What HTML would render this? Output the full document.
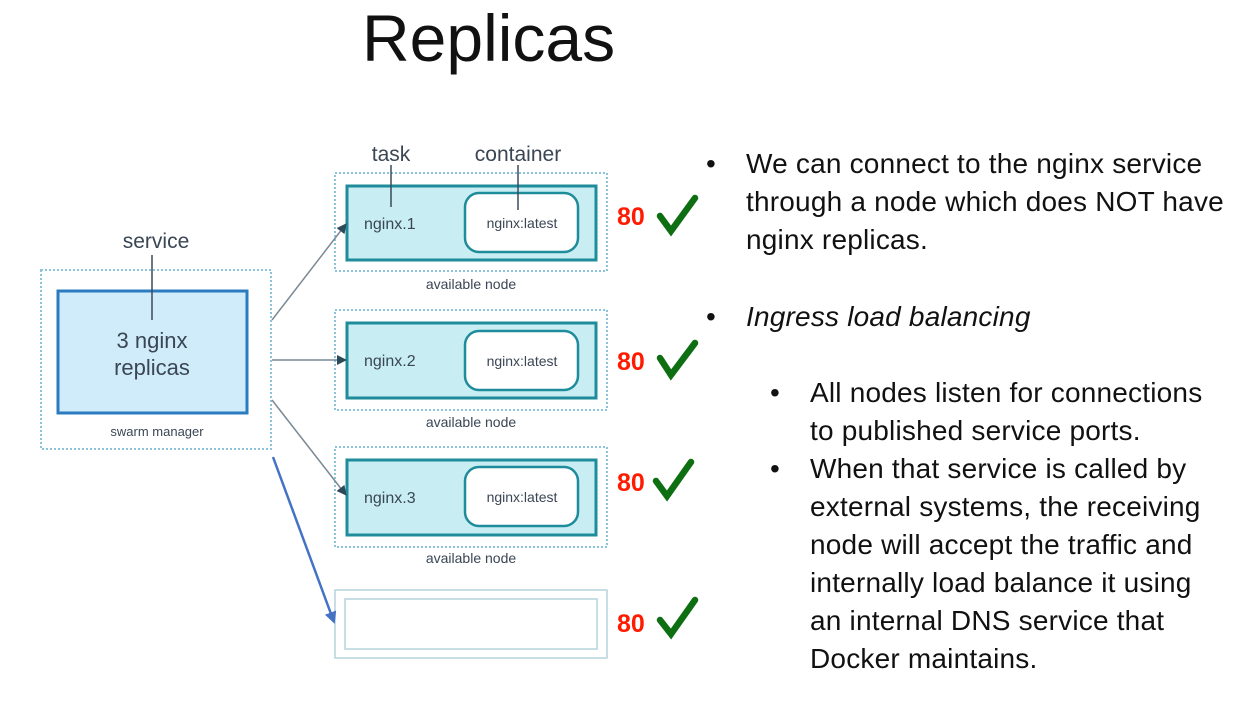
<!DOCTYPE html>
<html><head><style>
body{margin:0;width:1254px;height:703px;background:#fff;position:relative;overflow:hidden;font-family:"Liberation Sans",sans-serif}
.a{position:absolute;white-space:nowrap}
.t{font-size:28px;color:#111;line-height:38px;letter-spacing:0.2px}
</style></head><body>
<div class="a" style="left:362px;top:0px;font-size:66px;color:#111">Replicas</div>
<svg class="a" style="left:0;top:0" width="700" height="703">
<defs><marker id="m" markerWidth="10" markerHeight="10" refX="9" refY="5" orient="auto" markerUnits="userSpaceOnUse"><path d="M0,0 L10,5 L0,10z" fill="#2d4a5a"/></marker>
<marker id="mb" markerWidth="12" markerHeight="12" refX="10" refY="6" orient="auto" markerUnits="userSpaceOnUse"><path d="M0,0 L12,6 L0,12z" fill="#4472c4"/></marker></defs>
<rect x="41" y="270" width="230" height="179" fill="none" stroke="#8cc4dc" stroke-width="2" stroke-dasharray="2,2"/>
<rect x="58" y="291" width="189" height="122" fill="#d0ecfa" stroke="#2a7bc0" stroke-width="3"/>
<line x1="152" y1="255" x2="152" y2="320" stroke="#3a4a5a" stroke-width="1.5"/>
<g fill="none">
<rect x="335" y="173" width="272" height="98" stroke="#8cc4dc" stroke-width="2" stroke-dasharray="2,2"/>
<rect x="335" y="310" width="272" height="100" stroke="#8cc4dc" stroke-width="2" stroke-dasharray="2,2"/>
<rect x="335" y="447" width="272" height="100" stroke="#8cc4dc" stroke-width="2" stroke-dasharray="2,2"/>
</g>
<g fill="#c8eef4" stroke="#1e8c9a" stroke-width="3">
<rect x="347" y="186" width="249" height="74"/>
<rect x="347" y="323" width="249" height="75"/>
<rect x="347" y="460" width="249" height="75"/>
</g>
<g fill="#fff" stroke="#1e8c9a" stroke-width="2.5">
<rect x="465" y="193" width="113" height="59" rx="14"/>
<rect x="465" y="331" width="113" height="59" rx="14"/>
<rect x="465" y="467" width="113" height="59" rx="14"/>
</g>
<line x1="391" y1="165" x2="391" y2="207" stroke="#3a4a5a" stroke-width="1.5"/>
<line x1="518" y1="165" x2="518" y2="210" stroke="#3a4a5a" stroke-width="1.5"/>
<rect x="335" y="590" width="272" height="68" fill="none" stroke="#b6d4dc" stroke-width="1.5"/>
<rect x="345" y="599" width="252" height="50" fill="none" stroke="#b6d4dc" stroke-width="1.5"/>
<g stroke="#7a8a96" stroke-width="1.5">
<line x1="272" y1="320" x2="346" y2="224" marker-end="url(#m)"/>
<line x1="272" y1="360" x2="346" y2="360" marker-end="url(#m)"/>
<line x1="272" y1="400" x2="346" y2="495" marker-end="url(#m)"/>
</g>
<line x1="273" y1="457" x2="334" y2="622" stroke="#4472c4" stroke-width="2.5" marker-end="url(#mb)"/>
<g font-family="Liberation Sans,sans-serif" fill="#3a4654">
<text x="156" y="248" font-size="21" text-anchor="middle">service</text>
<text x="391" y="161" font-size="21" text-anchor="middle">task</text>
<text x="518" y="161" font-size="21" text-anchor="middle">container</text>
<text x="152" y="348" font-size="22" text-anchor="middle">3 nginx</text>
<text x="152" y="375" font-size="22" text-anchor="middle">replicas</text>
<text x="157" y="436" font-size="13" text-anchor="middle">swarm manager</text>
<text x="364" y="229" font-size="16">nginx.1</text>
<text x="364" y="366" font-size="16">nginx.2</text>
<text x="364" y="503" font-size="16">nginx.3</text>
<text x="522" y="228" font-size="14" text-anchor="middle">nginx:latest</text>
<text x="522" y="366" font-size="14" text-anchor="middle">nginx:latest</text>
<text x="522" y="502" font-size="14" text-anchor="middle">nginx:latest</text>
<text x="471" y="289" font-size="14" text-anchor="middle">available node</text>
<text x="471" y="427" font-size="14" text-anchor="middle">available node</text>
<text x="471" y="563" font-size="14" text-anchor="middle">available node</text>
</g>
<g font-family="Liberation Sans,sans-serif" font-weight="bold" font-size="25" fill="#ff1a00">
<text x="617" y="225">80</text><text x="617" y="370">80</text><text x="617" y="491">80</text><text x="617" y="632">80</text>
</g>
<g fill="none" stroke="#0e6e12" stroke-width="6.5" stroke-linecap="round">
<path d="M660,216 L671,231 L695,198"/><path d="M660,358 L671,375 L695,343"/><path d="M656,481 L667,496 L691,462"/><path d="M660,620 L671,634 L695,600"/>
</g>
</svg>
<div class="a t" style="left:706px;top:145px">•</div>
<div class="a t" style="left:746px;top:145px">We can connect to the nginx service<br>through a node which does NOT have<br>nginx replicas.</div>
<div class="a t" style="left:706px;top:298px">•</div>
<div class="a t" style="left:746px;top:298px;font-style:italic">Ingress load balancing</div>
<div class="a t" style="left:770px;top:374px">•</div>
<div class="a t" style="left:810px;top:374px">All nodes listen for connections<br>to published service ports.</div>
<div class="a t" style="left:770px;top:450px">•</div>
<div class="a t" style="left:810px;top:450px">When that service is called by<br>external systems, the receiving<br>node will accept the traffic and<br>internally load balance it using<br>an internal DNS service that<br>Docker maintains.</div>
</body></html>
